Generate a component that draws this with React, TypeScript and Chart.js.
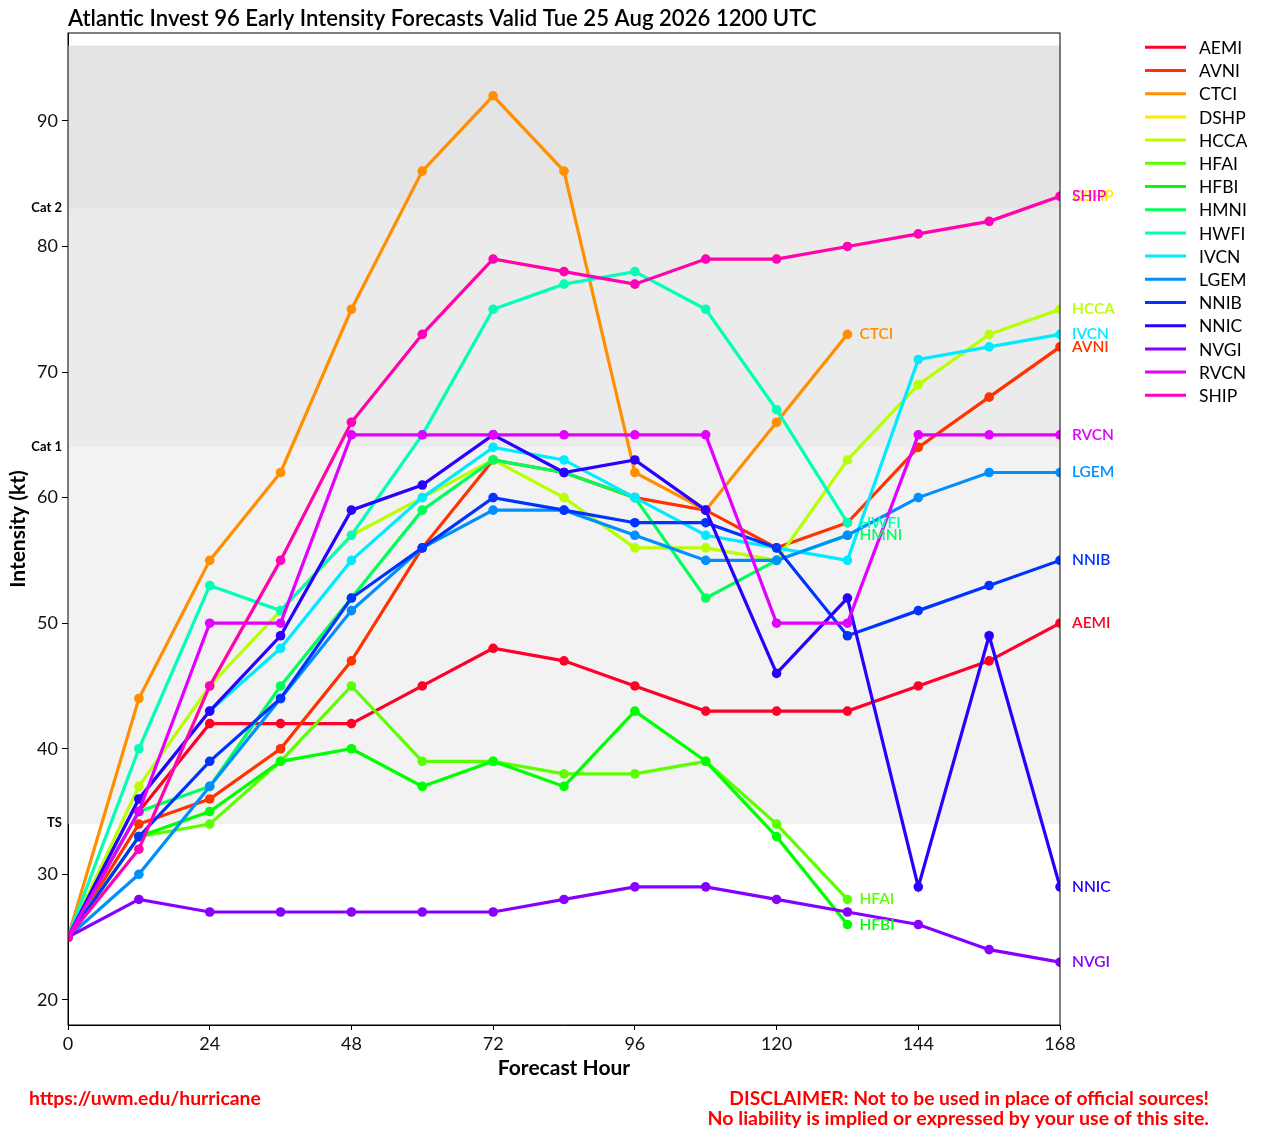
import React, { useEffect, useRef } from 'react';
import { Chart, registerables } from 'chart.js';

Chart.register(...registerables);

const W = 1263;
const H = 1139;
const FONT = 'Lato, "Noto Sans", sans-serif';

// ---- data ----
const hours = [0, 12, 24, 36, 48, 60, 72, 84, 96, 108, 120, 132, 144, 156, 168];
const modelNames = ['AEMI', 'AVNI', 'CTCI', 'DSHP', 'HCCA', 'HFAI', 'HFBI', 'HMNI', 'HWFI', 'IVCN', 'LGEM', 'NNIB', 'NNIC', 'NVGI', 'RVCN', 'SHIP'];
const AEMI = [25, 35, 42, 42, 42, 45, 48, 47, 45, 43, 43, 43, 45, 47, 50];
const AVNI = [25, 34, 36, 40, 47, 56, 63, 62, 60, 59, 56, 58, 64, 68, 72];
const CTCI = [25, 44, 55, 62, 75, 86, 92, 86, 62, 59, 66, 73];
const DSHP = [25, 32, 45, 55, 66, 73, 79, 78, 77, 79, 79, 80, 81, 82, 84];
const HCCA = [25, 37, 45, 51, 57, 60, 63, 60, 56, 56, 55, 63, 69, 73, 75];
const HFAI = [25, 33, 34, 39, 45, 39, 39, 38, 38, 39, 34, 28];
const HFBI = [25, 33, 35, 39, 40, 37, 39, 37, 43, 39, 33, 26];
const HMNI = [25, 35, 37, 45, 52, 59, 63, 62, 60, 52, 55, 57];
const HWFI = [25, 40, 53, 51, 57, 65, 75, 77, 78, 75, 67, 58];
const IVCN = [25, 36, 43, 48, 55, 60, 64, 63, 60, 57, 56, 55, 71, 72, 73];
const LGEM = [25, 30, 37, 44, 51, 56, 59, 59, 57, 55, 55, 57, 60, 62, 62];
const NNIB = [25, 33, 39, 44, 52, 56, 60, 59, 58, 58, 56, 49, 51, 53, 55];
const NNIC = [25, 36, 43, 49, 59, 61, 65, 62, 63, 59, 46, 52, 29, 49, 29];
const NVGI = [25, 28, 27, 27, 27, 27, 27, 28, 29, 29, 28, 27, 26, 24, 23];
const RVCN = [25, 35, 50, 50, 65, 65, 65, 65, 65, 65, 50, 50, 65, 65, 65];
const SHIP = [25, 32, 45, 55, 66, 73, 79, 78, 77, 79, 79, 80, 81, 82, 84];
const seriesValues = [AEMI, AVNI, CTCI, DSHP, HCCA, HFAI, HFBI, HMNI, HWFI, IVCN, LGEM, NNIB, NNIC, NVGI, RVCN, SHIP];

const xTicks = [0, 24, 48, 72, 96, 120, 144, 168];
const yTicks = [20, 30, 40, 50, 60, 70, 80, 90];
const bandLow = [34, 64, 83];
const bandHigh = [64, 83, 96];
const bandLabels = ['TS', 'Cat 1', 'Cat 2'];

const titleText = 'Atlantic Invest 96 Early Intensity Forecasts Valid Tue 25 Aug 2026 1200 UTC';
const footerLeft = 'https://uwm.edu/hurricane';
const footerRight1 = 'DISCLAIMER: Not to be used in place of official sources!';
const footerRight2 = 'No liability is implied or expressed by your use of this site.';

// ---- styles ----
const modelColors = ['#ff0029', '#ff3300', '#ff8e00', '#ffea00', '#b8ff00', '#5cff00', '#00ff00', '#00ff5b', '#00ffb7', '#00ebff', '#008fff', '#0033ff', '#2a00ff', '#8600ff', '#e200ff', '#ff00bf'];
const bandColors = ['#f2f2f2', '#ebebeb', '#e4e4e4'];

function fitSize(ctx: CanvasRenderingContext2D, text: string, target: number, weight: string) {
  const base = 20;
  ctx.font = `${weight} ${base}px ${FONT}`;
  const w = ctx.measureText(text).width;
  return (base * target) / w;
}

const decor = {
  id: 'decor',
  beforeDatasetsDraw(chart: any) {
    const { ctx, chartArea: a, scales } = chart;
    const y = scales.y;
    ctx.save();
    for (let i = 0; i < bandLow.length; i++) {
      const top = y.getPixelForValue(bandHigh[i]);
      const bot = y.getPixelForValue(bandLow[i]);
      ctx.fillStyle = bandColors[i];
      ctx.fillRect(a.left, top, a.right - a.left, bot - top);
    }
    ctx.restore();
  },
  afterDraw(chart: any) {
    const { ctx, chartArea: a, scales } = chart;
    const x = scales.x;
    const y = scales.y;
    ctx.save();
    // plot frame
    ctx.strokeStyle = '#000';
    ctx.lineWidth = 1;
    ctx.strokeRect(a.left, a.top, a.right - a.left, a.bottom - a.top);

    // band labels
    ctx.fillStyle = '#000';
    ctx.font = `bold 13px ${FONT}`;
    ctx.textAlign = 'right';
    ctx.textBaseline = 'middle';
    for (let i = 0; i < bandLow.length; i++) {
      ctx.fillText(bandLabels[i], a.left - 6, y.getPixelForValue(bandLow[i]) - 1);
    }

    // end labels
    ctx.textAlign = 'left';
    ctx.font = `600 15.5px ${FONT}`;
    for (let i = 0; i < modelNames.length; i++) {
      const vals = seriesValues[i];
      const last = vals.length - 1;
      ctx.fillStyle = modelColors[i];
      ctx.fillText(modelNames[i], x.getPixelForValue(hours[last]) + 12, y.getPixelForValue(vals[last]));
    }

    // legend
    ctx.font = `17.5px ${FONT}`;
    for (let i = 0; i < modelNames.length; i++) {
      const ly = 47.3 + i * 23.2;
      ctx.strokeStyle = modelColors[i];
      ctx.lineWidth = 3;
      ctx.beginPath();
      ctx.moveTo(1145, ly);
      ctx.lineTo(1186, ly);
      ctx.stroke();
      ctx.fillStyle = '#000';
      ctx.fillText(modelNames[i], 1199, ly + 1);
    }

    // title
    ctx.textBaseline = 'alphabetic';
    ctx.fillStyle = '#000';
    let s = fitSize(ctx, titleText, 749, '600');
    ctx.font = `600 ${s}px ${FONT}`;
    ctx.textAlign = 'left';
    ctx.fillText(titleText, 68, 26);

    // footer
    ctx.fillStyle = '#ff0000';
    s = fitSize(ctx, footerLeft, 232, 'bold');
    ctx.font = `bold ${s}px ${FONT}`;
    ctx.fillText(footerLeft, 29, 1105);
    ctx.textAlign = 'right';
    s = fitSize(ctx, footerRight1, 480, 'bold');
    ctx.font = `bold ${s}px ${FONT}`;
    ctx.fillText(footerRight1, 1209, 1105);
    s = fitSize(ctx, footerRight2, 502, 'bold');
    ctx.font = `bold ${s}px ${FONT}`;
    ctx.fillText(footerRight2, 1209, 1125);
    ctx.restore();
  },
};

export default function App() {
  const ref = useRef<HTMLCanvasElement>(null);
  useEffect(() => {
    const canvas = ref.current;
    if (!canvas) return;
    Chart.defaults.font.family = FONT;
    const n = modelNames.length;
    const datasets = modelNames.map((name, i) => ({
      label: name,
      data: seriesValues[i].map((v, j) => ({ x: hours[j], y: v })),
      borderColor: modelColors[i],
      backgroundColor: modelColors[i],
      pointBackgroundColor: modelColors[i],
      pointBorderWidth: 0,
      pointRadius: 4.8,
      pointHoverRadius: 4.8,
      borderWidth: 3.2,
      tension: 0,
      order: n - i,
    }));
    const chart = new Chart(canvas, {
      type: 'line',
      data: { datasets },
      options: {
        responsive: false,
        animation: false,
        events: [],
        layout: { padding: { left: 0, right: W - 1060, top: 33, bottom: 0 } },
        plugins: {
          legend: { display: false },
          tooltip: { enabled: false },
          title: { display: false },
        },
        scales: {
          x: {
            type: 'linear',
            min: 0,
            max: 168,
            afterBuildTicks: (s: any) => {
              s.ticks = xTicks.map((v) => ({ value: v }));
            },
            afterFit: (s: any) => {
              s.height = H - 1025;
            },
            grid: { drawOnChartArea: false, drawTicks: true, tickLength: 5, color: '#000' },
            border: { display: true, color: '#000', width: 1 },
            ticks: { font: { size: 18, family: FONT }, color: '#111', padding: 3, maxRotation: 0, autoSkip: false },
            title: {
              display: true,
              text: 'Forecast Hour',
              color: '#000',
              font: { size: 21, weight: 'bold', family: FONT },
              padding: { top: 0, bottom: 58 },
            },
          },
          y: {
            type: 'linear',
            min: 18,
            max: 97,
            afterBuildTicks: (s: any) => {
              s.ticks = yTicks.map((v) => ({ value: v }));
            },
            afterFit: (s: any) => {
              s.width = 68;
            },
            grid: { drawOnChartArea: false, drawTicks: true, tickLength: 6, color: '#000' },
            border: { display: true, color: '#000', width: 1 },
            ticks: { font: { size: 18, family: FONT }, color: '#111', padding: 4, autoSkip: false },
            title: {
              display: true,
              text: 'Intensity (kt)',
              color: '#000',
              font: { size: 21, weight: 'bold', family: FONT },
              padding: { top: 6, bottom: 0 },
            },
          },
        },
      } as any,
      plugins: [decor],
    });
    return () => chart.destroy();
  }, []);
  return (
    <div style={{ position: 'absolute', left: 0, top: 0, width: W, height: H }}>
      <canvas ref={ref} width={W} height={H} style={{ display: 'block', width: W, height: H }} />
    </div>
  );
}
